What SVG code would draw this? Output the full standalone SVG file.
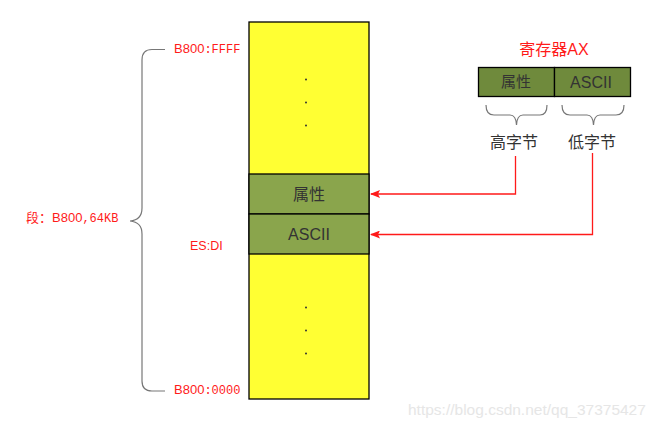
<svg xmlns="http://www.w3.org/2000/svg" width="661" height="429" viewBox="0 0 661 429">
<defs>
<style>
.cell{stroke:#000;stroke-width:1.3}
.txt{font-family:"Liberation Sans","Noto Sans CJK SC",sans-serif;fill:#333}
.red{font-family:"Liberation Sans","Noto Sans CJK SC",sans-serif;fill:#ff1a1a}
.mono{font-family:"Liberation Mono","Noto Sans CJK SC",monospace}
.dot{fill:#333}
.brace{fill:none;stroke:#777;stroke-width:1.2}
.conn{fill:none;stroke:#ff1a1a;stroke-width:1.3}
</style>
<marker id="ah" markerWidth="10" markerHeight="8" refX="9" refY="4" orient="auto" markerUnits="userSpaceOnUse">
<path d="M0,0 L10,4 L0,8 L2,4 Z" fill="#ff1a1a"/>
</marker>
</defs>
<rect width="661" height="429" fill="#fff"/>

<g id="memory">
<rect class="cell" x="249" y="22" width="120" height="377" fill="#ffff33"/>
<circle class="dot" cx="306" cy="79.5" r="1"/>
<circle class="dot" cx="306" cy="102.5" r="1"/>
<circle class="dot" cx="306" cy="125.5" r="1"/>
<circle class="dot" cx="306" cy="307.5" r="1"/>
<circle class="dot" cx="306" cy="330.5" r="1"/>
<circle class="dot" cx="306" cy="353.5" r="1"/>
</g>
<g id="mem-attr">
<rect class="cell" x="249" y="174" width="120" height="40" fill="#8aa54c"/>
<text class="txt" x="309" y="200" font-size="16" text-anchor="middle">属性</text>
</g>
<g id="mem-ascii">
<rect class="cell" x="249" y="214" width="120" height="40" fill="#8aa54c"/>
<text class="txt" x="309" y="240" font-size="16" text-anchor="middle">ASCII</text>
</g>

<g id="register">
<text class="red" x="554" y="55" font-size="16" text-anchor="middle">寄存器AX</text>
<rect class="cell" x="478.5" y="67.5" width="76" height="29" fill="#6f8a3c"/>
<rect class="cell" x="554.5" y="67.5" width="76" height="29" fill="#6f8a3c"/>
<text class="txt" x="516" y="87" font-size="15" text-anchor="middle">属性</text>
<text class="txt" x="591" y="88" font-size="16" text-anchor="middle">ASCII</text>
</g>
<g id="high-byte">
<path class="brace" d="M486,105 Q486,115 494,115 L510,115 Q516,115 516.5,125 Q517,115 523,115 L540,115 Q547,115 547,105"/>
<text class="txt" x="514" y="148" font-size="16" text-anchor="middle">高字节</text>
</g>
<g id="low-byte">
<path class="brace" d="M562,105 Q562,115 570,115 L587,115 Q593,115 593.5,125 Q594,115 600,115 L616,115 Q624,115 624,105"/>
<text class="txt" x="592" y="148" font-size="16" text-anchor="middle">低字节</text>
</g>

<g id="segment">
<path class="brace" d="M165,49.5 L152,49.5 Q142,49.5 142,60 L142,208 Q142,220 130,221 Q142,222 142,234 L142,381 Q142,391 152,391 L165,391"/>
<text class="red" x="26" y="222" font-size="13"><tspan>段：</tspan><tspan>B800</tspan><tspan class="mono" font-size="12">,64KB</tspan></text>
<text class="red" x="174" y="53" font-size="13"><tspan>B800</tspan><tspan class="mono" font-size="12">:FFFF</tspan></text>
<text class="red" x="174" y="394" font-size="13"><tspan>B800</tspan><tspan class="mono" font-size="12">:0000</tspan></text>
<text class="red" x="190" y="250" font-size="12.5">ES:DI</text>
</g>

<g id="connectors">
<path class="conn" d="M515.5,156 L515.5,194 L371,194" marker-end="url(#ah)"/>
<path class="conn" d="M592.5,153 L592.5,234.5 L371,234.5" marker-end="url(#ah)"/>
</g>

<text x="408" y="415" font-family="Liberation Sans,sans-serif" font-size="15.5" fill="#e6e6e6">https://blog.csdn.net/qq_37375427</text>
</svg>
